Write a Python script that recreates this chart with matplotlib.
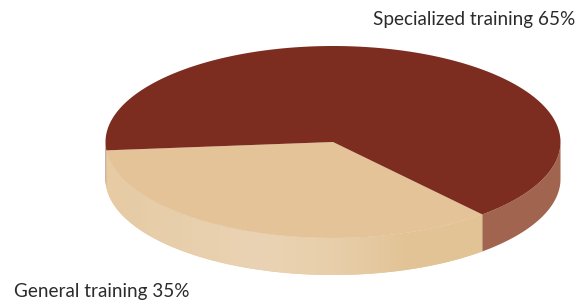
import numpy as np
import matplotlib
matplotlib.use("Agg")
import matplotlib.pyplot as plt
from matplotlib.patches import Polygon
from matplotlib.colors import LinearSegmentedColormap

labels = ["General training", "Specialized training"]
values = [35, 65]
top_colors = ["#E3C397", "#7C2D1F"]
side_colors = ["#E4C69C", "#A1654F"]

W, H = 577, 303
fig = plt.figure(figsize=(W / 100, H / 100), dpi=100)
ax = fig.add_axes([0, 0, 1, 1])
ax.set_xlim(0, W)
ax.set_ylim(H, 0)
ax.axis("off")

cx, cy = 333, 142
a, b = 227.5, 96
depth = 37
start = 185.0

def pt(theta_deg, dy=0.0):
    t = np.radians(theta_deg)
    return cx + a * np.cos(t), cy - b * np.sin(t) + dy

total = sum(values)
angles = []
s = start
for v in values:
    e = s + 360.0 * v / total
    angles.append((s, e))
    s = e

grad = LinearSegmentedColormap.from_list(
    "g", ["#E6CBA3", "#E8CFAC", "#EAD3B4", "#E8CFAA", "#E2C396", "#E2C395", "#EAD2B1"])
for i, (s0, e0) in enumerate(angles):
    segs = []
    for off in (0, 360, -360):
        lo = max(s0 + off, 180)
        hi = min(e0 + off, 360)
        if hi > lo:
            segs.append((lo, hi))
    for lo, hi in segs:
        th = np.linspace(lo, hi, 100)
        top = [pt(t) for t in th]
        bot = [pt(t, depth) for t in th[::-1]]
        poly = Polygon(top + bot, closed=True, facecolor=side_colors[i],
                       edgecolor="none", zorder=1)
        ax.add_patch(poly)
        if i == 0:
            img = np.linspace(0, 1, 256).reshape(1, -1)
            im = ax.imshow(img, cmap=grad, aspect="auto",
                           extent=(cx - a, cx + a, cy + b + depth + 2, cy - b - 2),
                           zorder=1.5, interpolation="bilinear")
            im.set_clip_path(poly)

for i, (s0, e0) in enumerate(angles):
    th = np.linspace(s0, e0, 200)
    verts = [(cx, cy)] + [pt(t) for t in th]
    ax.add_patch(Polygon(verts, closed=True, facecolor=top_colors[i],
                         edgecolor="none", zorder=3))

font = ["Lato", "DejaVu Sans"]
ax.text(575, 20, f"{labels[1]} {values[1]}%", ha="right", va="center",
        fontsize=13.6, color="#2b2b2b", family=font)
ax.text(14, 291, f"{labels[0]} {values[0]}%", ha="left", va="center",
        fontsize=13.6, color="#2b2b2b", family=font)

fig.savefig("out.png", dpi=100)
